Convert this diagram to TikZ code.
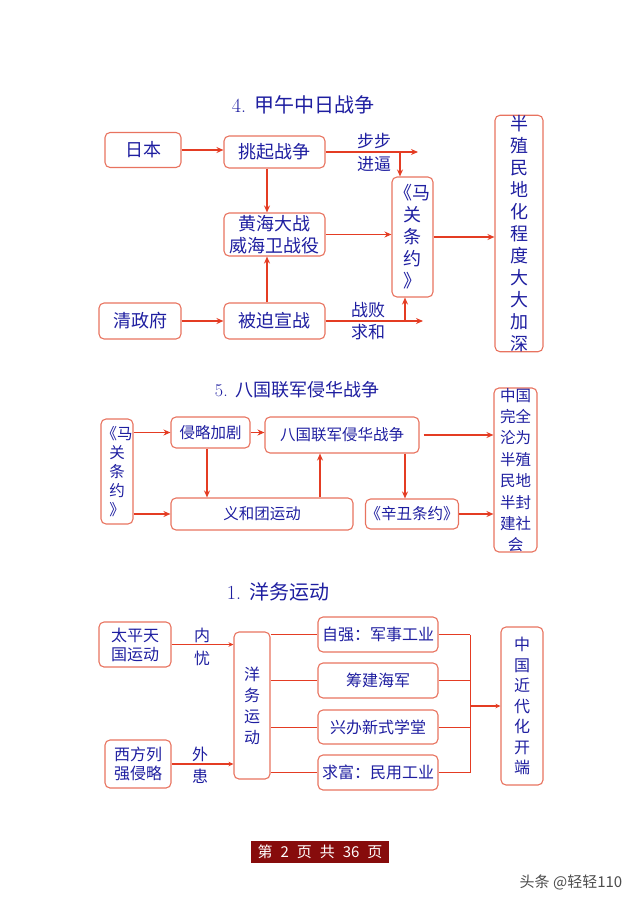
\documentclass[tikz,border=0pt]{standalone}
\usepackage{fontspec}
\newfontfamily\cjk{Noto Sans CJK SC}
\usetikzlibrary{arrows.meta}
\definecolor{txtblue}{RGB}{30,30,160}
\definecolor{boxred}{RGB}{232,115,95}
\definecolor{arrred}{RGB}{228,60,35}
\definecolor{pagered}{RGB}{135,12,12}

\begin{document}
\begin{tikzpicture}
        [x=1pt, y=-1pt,
        box/.style={draw=boxred, line width=1.1pt, rounded corners=5pt, text=txtblue, align=center, inner sep=0pt},
        box1/.style={box, font=\cjk\fontsize{18}{22}\selectfont},
        box2/.style={box, font=\cjk\fontsize{15.5}{19}\selectfont},
        box3/.style={box, font=\cjk\fontsize{16}{19}\selectfont},
        title/.style={text=txtblue, font=\fontsize{20}{24}\selectfont},
        lbl/.style={text=txtblue, inner sep=0pt},
        arr/.style={draw=arrred, line width=1.3pt, -{Stealth[length=7pt, width=6pt]}},
        arrsmall/.style={draw=arrred, line width=1.1pt, -{Stealth[length=5pt, width=4.5pt]}},
        ln/.style={draw=arrred, line width=1pt}]

        \useasboundingbox (0,0) rectangle (640,905);

        % --- 4. war of 1894 ---
        \node[title] (t4) at (303,105) {4. {\cjk 甲午中日战争}};

        \node[box1, minimum width=76pt, minimum height=35pt] (riben) at (143,150) {日本};
        \node[box1, minimum width=101pt, minimum height=32pt] (tiao) at (274.5,152) {挑起战争};
        \node[box1, minimum width=101pt, minimum height=43pt] (huang) at (274.5,234.5) {黄海大战\\威海卫战役};
        \node[box1, minimum width=82pt, minimum height=36pt] (qing) at (140,321) {清政府};
        \node[box1, minimum width=101pt, minimum height=36pt] (bei) at (274.5,321) {被迫宣战};
        \node[box1, minimum width=41pt, minimum height=120pt] (maguan) at (412.5,237) {《马\\关\\条\\约\\》};
        \node[box1, minimum width=48pt, minimum height=229pt] (banzhi) at (519,233.5) {半\\殖\\民\\地\\化\\程\\度\\大\\大\\加\\深};

        \draw[arr] (riben.east) -- (riben.east -| tiao.west);
        \draw[arr] (qing.east) -- (qing.east -| bei.west);
        \draw[arr] ([xshift=-7.5pt]tiao.south) -- ([xshift=-7.5pt]huang.north);
        \draw[arr] ([xshift=-7.5pt]bei.north) -- ([xshift=-7.5pt]huang.south);
        \draw[arr] (huang.east) -- (huang.east -| maguan.west);
        \draw[arr] (maguan.east) -- (maguan.east -| banzhi.west);

        % branches towards the treaty
        \coordinate (j1) at (400,152);
        \coordinate (e1) at (418,152);
        \draw[arr] (tiao.east) -- (e1);
        \draw[arr] (j1) -- (j1 |- maguan.north);
        \coordinate (j2) at (405,321);
        \coordinate (e2) at (423,321);
        \draw[arr] (bei.east) -- (e2);
        \draw[arr] (j2) -- (j2 |- maguan.south);

        \node[lbl, font=\cjk\fontsize{17}{20}\selectfont] (bubu) at (374,141) {步步};
        \node[lbl, font=\cjk\fontsize{17}{20}\selectfont] (jinbi) at (374,164) {进逼};
        \node[lbl, font=\cjk\fontsize{17}{20}\selectfont] (zhanbai) at (368,310) {战败};
        \node[lbl, font=\cjk\fontsize{17}{20}\selectfont] (qiuhe) at (368,332) {求和};

        % --- 5. eight-nation alliance ---
        \node[title, font=\fontsize{18}{22}\selectfont] (t5) at (297,390) {5. {\cjk 八国联军侵华战争}};

        \node[box2, minimum width=32pt, minimum height=105pt] (maguan2) at (117,471.5) {《马\\关\\条\\约\\》};
        \node[box2, minimum width=79pt, minimum height=31pt] (qinlue) at (210.5,432.5) {侵略加剧};
        \node[box2, minimum width=154pt, minimum height=36pt] (baguo) at (342,435) {八国联军侵华战争};
        \node[box2, minimum width=182pt, minimum height=32pt] (yihe) at (262,514) {义和团运动};
        \node[box2, minimum width=90pt, minimum height=30pt] (xinchou) at (412,514) {《辛丑条约》};
        \node[box2, minimum width=43pt, minimum height=160pt, font=\cjk\fontsize{15.5}{21.4}\selectfont] (wanquan) at (515.5,470) {中国\\完全\\沦为\\半殖\\民地\\半封\\建社\\会};

        \draw[arr] (maguan2.east |- qinlue) -- (qinlue.west);
        \draw[arr] (maguan2.east |- yihe) -- (yihe.west);
        \draw[arr] (qinlue.east) -- (qinlue.east -| baguo.west);
        \draw[arr] ([xshift=-3.5pt]qinlue.south) -- ([xshift=-3.5pt]qinlue.south |- yihe.north);
        \draw[arr] ([xshift=-22pt]baguo.south |- yihe.north) -- ([xshift=-22pt]baguo.south);
        \draw[arr] ([xshift=4pt]baguo.east) -- (baguo.east -| wanquan.west);
        \draw[arr] ([xshift=63pt]baguo.south) -- ([xshift=63pt]baguo.south |- xinchou.north);
        \draw[arr] (xinchou.east) -- (xinchou.east -| wanquan.west);

        % --- 1. self-strengthening movement ---
        \node[title] (t1) at (278,592) {1. {\cjk 洋务运动}};

        \node[box3, minimum width=72pt, minimum height=45pt] (taiping) at (135,644.5) {太平天\\国运动};
        \node[box3, minimum width=66pt, minimum height=48pt] (xifang) at (138,764) {西方列\\强侵略};
        \node[box3, minimum width=36pt, minimum height=147pt, font=\cjk\fontsize{16}{21}\selectfont] (yangwu) at (252,705.5) {洋\\务\\运\\动};
        \node[box3, minimum width=120pt, minimum height=35pt] (ziqiang) at (378,634.5) {自强：军事工业};
        \node[box3, minimum width=120pt, minimum height=35pt] (chouhai) at (378,680.5) {筹建海军};
        \node[box3, minimum width=120pt, minimum height=34pt] (xuetang) at (378,727) {兴办新式学堂};
        \node[box3, minimum width=120pt, minimum height=35pt] (qiufu) at (378,772.5) {求富：民用工业};
        \node[box3, minimum width=42pt, minimum height=158pt, font=\cjk\fontsize{16}{20.5}\selectfont] (jindai) at (522,706) {中\\国\\近\\代\\化\\开\\端};

        \draw[arrsmall] (taiping.east) -- (taiping.east -| yangwu.west);
        \draw[arrsmall] (xifang.east) -- (xifang.east -| yangwu.west);
        \node[lbl, font=\cjk\fontsize{16}{19}\selectfont] (nei) at (202,635) {内};
        \node[lbl, font=\cjk\fontsize{16}{19}\selectfont] (you) at (202,658) {忧};
        \node[lbl, font=\cjk\fontsize{16}{19}\selectfont] (wai) at (200,754) {外};
        \node[lbl, font=\cjk\fontsize{16}{19}\selectfont] (huan) at (200,776) {患};

        \foreach \b in {ziqiang, chouhai, xuetang, qiufu}
            \draw[ln] (yangwu.east |- \b) -- (\b.west);

        \coordinate (hub) at (470,706);
        \foreach \b in {ziqiang, chouhai, xuetang, qiufu}
            \draw[ln] (\b.east) -- (\b.east -| hub);
        \draw[ln] (hub |- ziqiang) -- (hub |- qiufu);
        \draw[arrsmall] (hub) -- (hub -| jindai.west);

        % --- footer ---
        \node[fill=pagered, text=white, font=\cjk\fontsize{15}{17}\selectfont, minimum width=138pt, minimum height=22pt, inner sep=0pt] (page) at (320,852) {第\hspace{8pt}2\hspace{8pt}页\hspace{8pt}共\hspace{8pt}36\hspace{8pt}页};
        \node[text=black!70, font=\cjk\fontsize{15}{17}\selectfont] (wm) at (571,882) {头条 @轻轻110};
\end{tikzpicture}
\end{document}
